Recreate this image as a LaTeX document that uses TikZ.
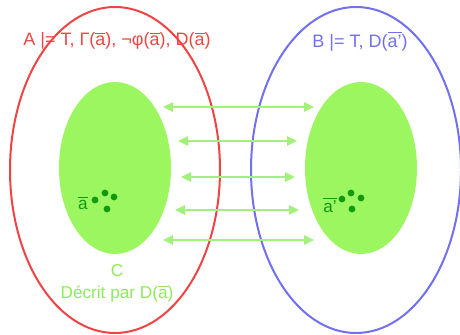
\documentclass[tikz,border=0pt]{standalone}
\usepackage{fontspec}
\setmainfont{Liberation Sans}
\usetikzlibrary{arrows.meta,shapes.geometric,positioning}
\definecolor{modRed}{HTML}{F04444}
\definecolor{modBlue}{HTML}{7070F0}
\definecolor{modFill}{HTML}{9CF660}
\definecolor{modArrow}{HTML}{A4F07C}
\definecolor{modDot}{HTML}{109A10}
\definecolor{modText}{HTML}{8EEA5C}
\newcommand{\ovl}[1]{$\overline{\mbox{#1}}$}
\tikzset{
  mod outer/.style={ellipse, draw, line width=1pt, minimum width=105pt, minimum height=163pt, inner sep=0pt},
  mod inner/.style={ellipse, fill=modFill, minimum width=56pt, minimum height=86pt, inner sep=0pt},
  mod label/.style={font=\fontsize{8.6}{10}\selectfont, inner sep=0pt},
  mod head/.style={mod label, font=\fontsize{9}{11}\selectfont},
  mod link/.style={draw=modArrow, line width=1.1pt, {Triangle[length=5pt,width=4.6pt]}-{Triangle[length=5pt,width=4.6pt]}},
  mod dot/.style={fill=modDot},
}
\begin{document}
\begin{tikzpicture}[x=0.5pt, y=-0.5pt]
  \useasboundingbox (0,0) rectangle (460,335);

  % the two models
  \node[mod outer, draw=modRed] (modA) at (115,170) {};
  \node[mod outer, draw=modBlue] (modB) at (356,170) {};

  % the realised types
  \node[mod inner] (typeC) at (115,168) {};
  \node[mod inner] (typeD) at (361,168) {};

  % headings
  \node[mod head, text=modRed] (headA) at (117,41) {A |= T, Γ(\ovl{a}), ¬φ(\ovl{a}), D(\ovl{a})};
  \node[mod head, text=modBlue] (headB) at (360,41) {B |= T, D(\ovl{a'})};

  % tuples
  \node[mod label, text=modDot] (tupA) at (83,203) {\ovl{a}};
  \node[mod label, text=modDot] (tupB) at (330,205) {\ovl{a'}};
  \foreach \x/\y in {95/200, 105/193, 114/197, 107/209, 342/199, 351/193, 361/198, 352/209} {
    \fill[mod dot] (\x,\y) circle (1.7pt);
  }

  % caption under C
  \node[mod label, text=modText] (nameC) at (117,271) {C};
  \node[mod label, text=modText, below=3.5pt of nameC] (descC) {Décrit par D(\ovl{a})};

  % correspondence arrows
  \foreach \i/\y/\l/\r in {1/107/163/314, 2/141/178/297, 3/177/181/295, 4/210/175/299, 5/240/163/314} {
    \coordinate (linkL\i) at (\l,\y);
    \coordinate (linkR\i) at (\r,\y);
    \draw[mod link] (linkL\i) -- (linkR\i);
  }
\end{tikzpicture}
\end{document}
